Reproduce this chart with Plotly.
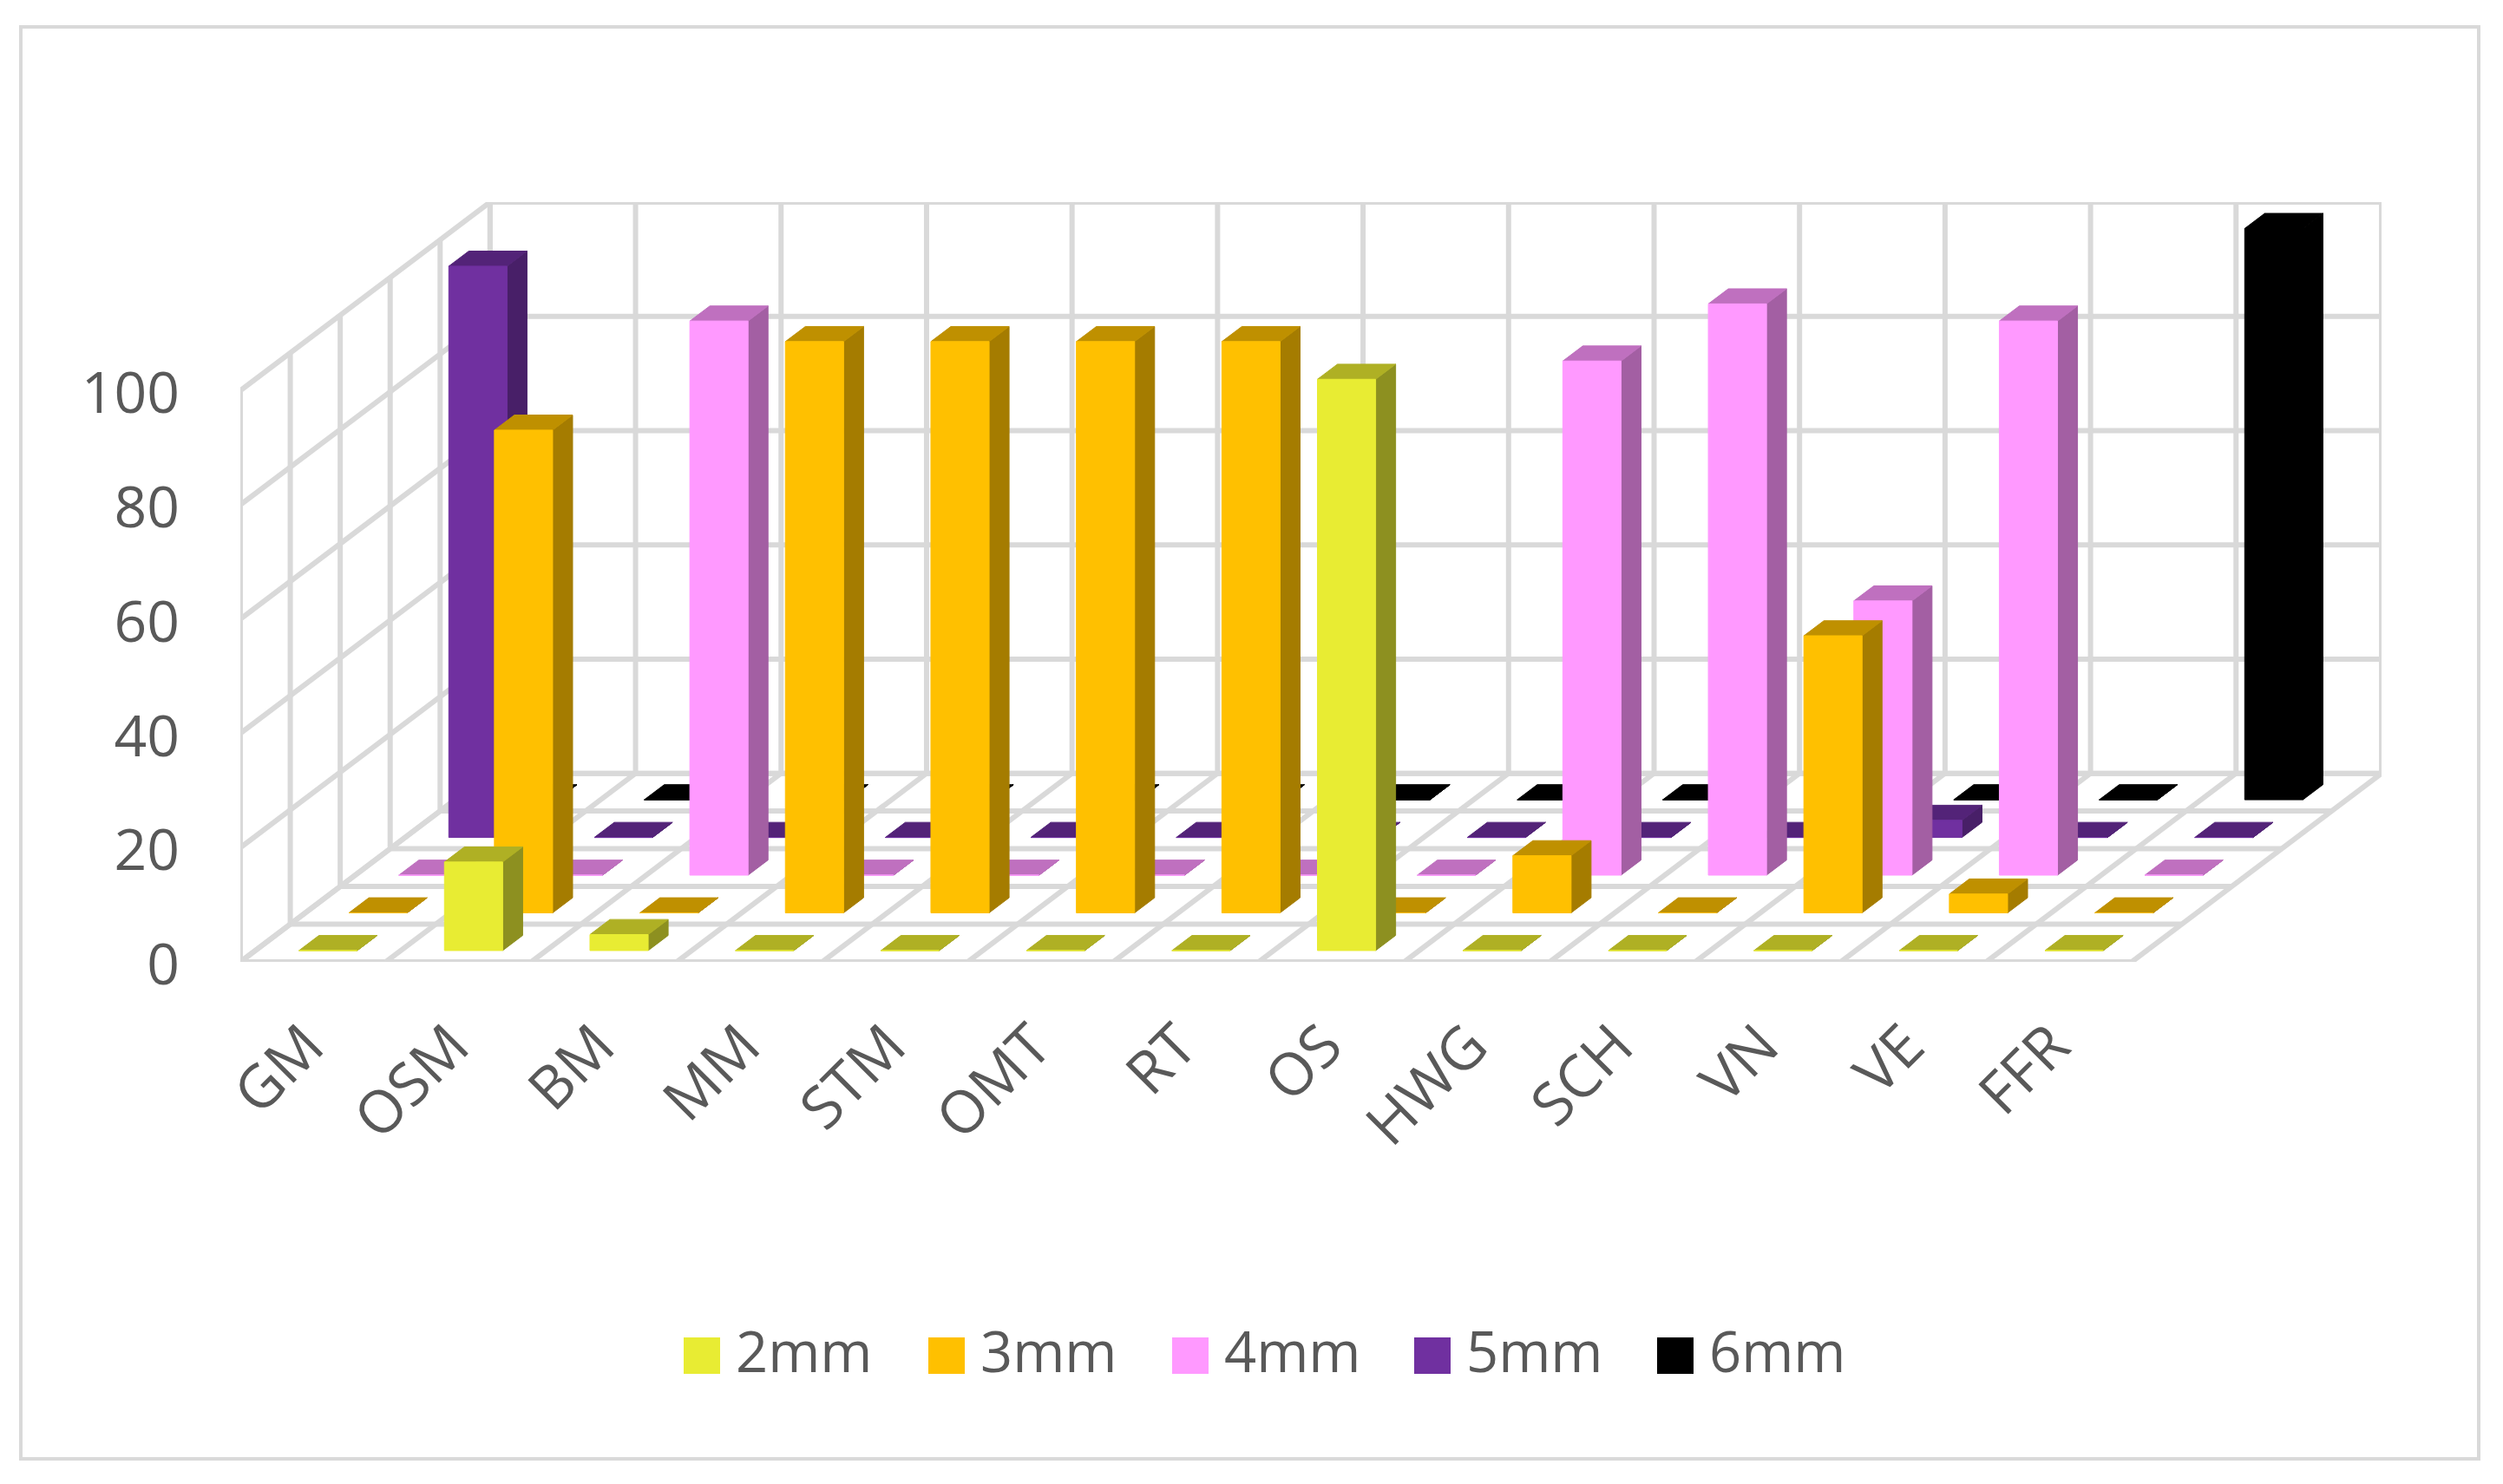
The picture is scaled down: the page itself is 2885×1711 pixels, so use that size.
import plotly.graph_objects as go

categories = ["GM", "OSM", "BM", "MM", "STM", "OMT", "RT", "OS", "HWG", "SCH", "VN", "VE", "FFR"]
series_names = ["2mm", "3mm", "4mm", "5mm", "6mm"]
v_2mm = [0, 15.5, 2.8, 0, 0, 0, 0, 100, 0, 0, 0, 0, 0]
v_3mm = [0, 84.5, 0, 100, 100, 100, 100, 0, 10, 0, 48.5, 3.3, 0]
v_4mm = [0, 0, 97, 0, 0, 0, 0, 0, 90, 100, 48, 97, 0]
v_5mm = [100, 0, 0, 0, 0, 0, 0, 0, 0, 0, 3, 0, 0]
v_6mm = [0, 0, 0, 0, 0, 0, 0, 0, 0, 0, 0, 0, 100]
series_values = [v_2mm, v_3mm, v_4mm, v_5mm, v_6mm]
y_ticks = [0, 20, 40, 60, 80, 100]

front_colors = ["#E8EC33", "#FFC000", "#FF99FF", "#7030A0", "#000000"]
side_colors = ["#8D9020", "#A57C00", "#A35FA3", "#481F68", "#000000"]
top_colors = ["#AFB024", "#BF9000", "#BF70BF", "#532378", "#000000"]

GRID = "#D9D9D9"
TEXT = "#595959"
FONT = "Open Sans"
W, H = 2885, 1711
L, R, T, B = 277, 2745, 233, 1109  # plot rectangle in page pixels

N = len(categories)
ROWS = len(series_names)
DX = 0.3433    # oblique shift of one series row along x, in category widths
DY = 6.6       # oblique shift of one series row along y, in value units
BAR = 0.4      # bar width / category width
GAP = 0.4      # bar depth / row depth
XMAX = N + ROWS * DX
YMAX = 100 + ROWS * DY


def proj(x, v, d):
    return x + d * DX, v + d * DY


def add_poly(xs, ys, pts):
    for p in pts + [pts[0]]:
        xs.append(p[0])
        ys.append(p[1])
    xs.append(None)
    ys.append(None)


fig = go.Figure()

# walls and floor grid
gx, gy = [], []


def seg(a, b):
    gx.extend([a[0], b[0], None])
    gy.extend([a[1], b[1], None])


for v in y_ticks:
    seg(proj(0, v, 0), proj(0, v, ROWS))
    seg(proj(0, v, ROWS), proj(N, v, ROWS))
for i in range(N + 1):
    seg(proj(i, 0, ROWS), proj(i, 100, ROWS))
    seg(proj(i, 0, 0), proj(i, 0, ROWS))
for d in range(ROWS + 1):
    seg(proj(0, 0, d), proj(0, 100, d))
    seg(proj(0, 0, d), proj(N, 0, d))
fig.add_trace(go.Scatter(x=gx, y=gy, mode="lines", line=dict(color=GRID, width=6),
                         cliponaxis=False, showlegend=False, hoverinfo="skip"))

# bars, back row first
for r in range(ROWS - 1, -1, -1):
    fx, fy, sx, sy, tx, ty = [], [], [], [], [], []
    d0 = r + 0.5 - GAP / 2
    d1 = r + 0.5 + GAP / 2
    for i, v in enumerate(series_values[r]):
        x0 = i + 0.5 - BAR / 2
        x1 = i + 0.5 + BAR / 2
        add_poly(fx, fy, [proj(x0, 0, d0), proj(x1, 0, d0), proj(x1, v, d0), proj(x0, v, d0)])
        add_poly(sx, sy, [proj(x1, 0, d0), proj(x1, 0, d1), proj(x1, v, d1), proj(x1, v, d0)])
        add_poly(tx, ty, [proj(x0, v, d0), proj(x1, v, d0), proj(x1, v, d1), proj(x0, v, d1)])
    for xs, ys, col, part in [(sx, sy, side_colors[r], "side"), (tx, ty, top_colors[r], "top"),
                              (fx, fy, front_colors[r], "front")]:
        fig.add_trace(go.Scatter(x=xs, y=ys, mode="lines", fill="toself", fillcolor=col,
                                 line=dict(color=col, width=1),
                                 name=f"{series_names[r]} {part}", showlegend=False, hoverinfo="skip"))

# legend row, in its own hidden subplot measured across the page width
legend_left = [788, 1070, 1351, 1630, 1910]
for name, col, px in zip(series_names, front_colors, legend_left):
    fig.add_trace(go.Scatter(x=[px + 21], y=[0], mode="markers", xaxis="x2", yaxis="y2", name=name,
                             cliponaxis=False, showlegend=False,
                             marker=dict(symbol="square", size=42, color=col), hoverinfo="skip"))
    fig.add_trace(go.Scatter(x=[px + 60], y=[-0.06], mode="text", text=[name], xaxis="x2", yaxis="y2", name=name,
                             textposition="middle right", cliponaxis=False, showlegend=False,
                             textfont=dict(family=FONT, size=65, color=TEXT), hoverinfo="skip"))

axis_common = dict(showgrid=False, zeroline=False, showline=False, ticks="", fixedrange=True, automargin=False)
fig.update_layout(
    width=W, height=H, autosize=False,
    margin=dict(l=0, r=0, t=0, b=0, pad=0),
    paper_bgcolor="white", plot_bgcolor="rgba(0,0,0,0)", showlegend=False,
    font=dict(family=FONT, color=TEXT, size=64),
    xaxis=dict(domain=[L / W, R / W], anchor="y", range=[0, XMAX],
               tickvals=[i + 0.5 for i in range(N)], ticktext=categories,
               tickangle=-45, ticklabelstandoff=42, ticklabelshift=-8,
               tickfont=dict(family=FONT, size=68, color=TEXT), **axis_common),
    yaxis=dict(domain=[(H - B) / H, (H - T) / H], anchor="x", range=[0, YMAX], tickvals=y_ticks,
               ticklabelstandoff=69, ticklabelshift=3, tickfont=dict(family=FONT, size=66, color=TEXT), **axis_common),
    xaxis2=dict(domain=[0, 1], anchor="y2", range=[0, W], visible=False, fixedrange=True, automargin=False),
    yaxis2=dict(domain=[(H - 1613) / H, (H - 1513) / H], anchor="x2", range=[-1, 1], visible=False,
                fixedrange=True, automargin=False),
    shapes=[dict(type="rect", xref="paper", yref="paper",
                 x0=24 / W, x1=2857 / W, y0=(H - 1682) / H, y1=(H - 31) / H,
                 line=dict(color=GRID, width=4), layer="below")],
)

fig.write_html("out.html", config={"displayModeBar": False},
               post_script="document.body.style.margin='0';document.documentElement.style.overflow='hidden';")
